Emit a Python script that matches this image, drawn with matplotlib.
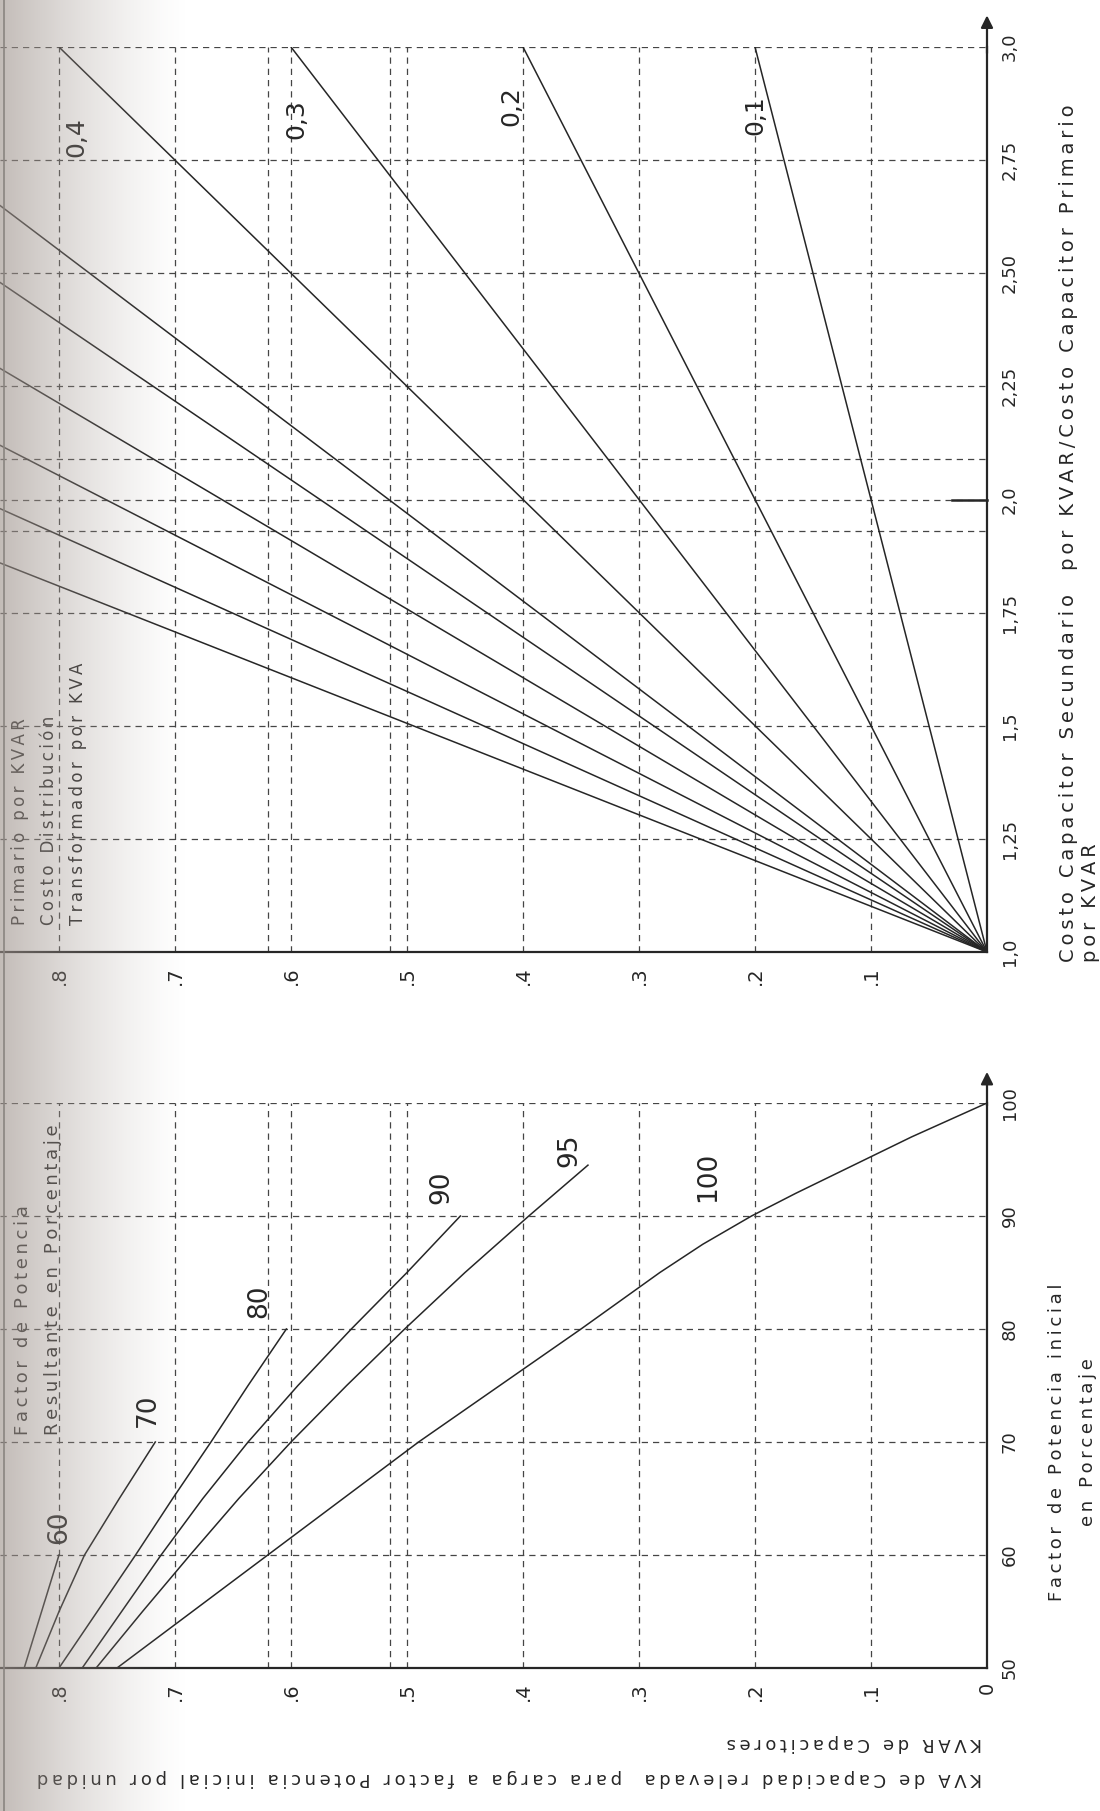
import matplotlib.pyplot as plt
import numpy as np

# ---- data -------------------------------------------------------------
# upper chart: cost ratio (secondary / primary capacitor cost per KVAR)
cost_ticks = [1.0, 1.25, 1.5, 1.75, 2.0, 2.25, 2.5, 2.75, 3.0]
cost_labels = ["1,0", "1,25", "1,5", "1,75", "2,0", "2,25", "2,50", "2,75", "3,0"]
cost_params = ["0,1", "0,2", "0,3", "0,4", "0,5", "0,6", "0,7", "0,8", "0,9", "1,0"]
cost_end_kva = [0.2, 0.4, 0.6, 0.8, 0.851, 0.851, 0.851, 0.851, 0.851, 0.851]
cost_end_ratio = [3.0, 3.0, 3.0, 3.0, 2.65, 2.48, 2.29, 2.12, 1.98, 1.86]
cost_label_pos = {"0,1": (0.20, 2.85), "0,2": (0.41, 2.87),
                  "0,3": (0.595, 2.84), "0,4": (0.785, 2.80)}
cost_extra_grid = [1.93, 2.09]

# shared horizontal scale: KVA / KVAR
kva_ticks = [0.1, 0.2, 0.3, 0.4, 0.5, 0.6, 0.7, 0.8]
kva_labels = [".1", ".2", ".3", ".4", ".5", ".6", ".7", ".8"]
kva_extra_grid = [0.515, 0.62]

# lower chart: initial power factor (%) vs KVA released, per final pf
pf_ticks = [50, 60, 70, 80, 90, 100]
pf_curves = {
    "100": ([100, 97, 94, 92, 90, 87.5, 85, 80, 75, 70, 65, 60, 55, 50],
            [0.0, 0.065, 0.125, 0.165, 0.203, 0.245, 0.282, 0.35, 0.42, 0.49,
             0.555, 0.62, 0.685, 0.75]),
    "95": ([94.5, 90, 85, 80, 75, 70, 65, 60, 55, 50],
           [0.344, 0.395, 0.45, 0.502, 0.552, 0.60, 0.645, 0.687, 0.728, 0.768]),
    "90": ([90, 85, 80, 75, 70, 65, 60, 55, 50],
           [0.454, 0.50, 0.548, 0.594, 0.637, 0.676, 0.712, 0.746, 0.78]),
    "80": ([80, 75, 70, 65, 60, 55, 50],
           [0.604, 0.637, 0.669, 0.702, 0.734, 0.767, 0.80]),
    "70": ([70, 65, 60, 55, 50],
           [0.717, 0.748, 0.778, 0.80, 0.82]),
    "60": ([60, 55, 50],
           [0.80, 0.815, 0.83]),
}
pf_label_pos = {"100": (0.24, 93.5), "95": (0.36, 95.8), "90": (0.47, 92.5),
                "80": (0.627, 82.5), "70": (0.723, 72.8), "60": (0.80, 62.5)}

W, H = 1100, 1811
fig = plt.figure(figsize=(W / 100, H / 100), dpi=100)
fig.patch.set_facecolor("white")

INK = "#262626"
GRID = dict(color="#454545", lw=0.9, ls=(0, (5, 4)))
narrow = ["Liberation Sans Narrow", "DejaVu Sans"]


def spaced(s):
    # wide letter spacing, as in the stencil lettering of the drawing
    return "\u2009".join(s)


def px_rect(x0, y_top, x1, y_bot):
    return [x0 / W, 1 - y_bot / H, (x1 - x0) / W, (y_bot - y_top) / H]


def rot_text(x, y, s, rot, size=13, ha="left"):
    fig.text(x / W, 1 - y / H, spaced(s), rotation=rot, rotation_mode="anchor",
             ha=ha, va="center", fontsize=size, color=INK, family="DejaVu Sans")


AX_X = 987
KVA_MAX = AX_X / 1160.0


def setup(ax, vticks, vlabels, kva_show_zero):
    ax.set_facecolor("none")
    ax.set_xlim(KVA_MAX, 0)
    for s in ("left", "top"):
        ax.spines[s].set_visible(False)
    for s in ("right", "bottom"):
        ax.spines[s].set_color(INK)
        ax.spines[s].set_linewidth(1.6)
    ax.yaxis.tick_right()
    ax.set_yticks(vticks)
    ax.set_yticklabels(vlabels, rotation=90, va="center", ha="left",
                       family=narrow, fontsize=13, color=INK)
    xt = ([0.0] if kva_show_zero else []) + kva_ticks
    xl = (["0"] if kva_show_zero else []) + kva_labels
    ax.set_xticks(xt)
    ax.set_xticklabels(xl, rotation=90, family=narrow, fontsize=14, color=INK)
    ax.tick_params(length=0, pad=10)
    for v in kva_ticks + kva_extra_grid:
        ax.axvline(v, **GRID)


# ---- upper chart ------------------------------------------------------
ax1 = fig.add_axes(px_rect(0, 47, AX_X, 952))
ax1.set_ylim(1.0, 3.0)
setup(ax1, cost_ticks, cost_labels, False)
for c in cost_ticks[1:] + cost_extra_grid:
    ax1.axhline(c, **GRID)
ax1.plot([0.0, 0.03], [2.0, 2.0], color=INK, lw=1.8, clip_on=False)

for name, kv, cr in zip(cost_params, cost_end_kva, cost_end_ratio):
    ax1.plot([0.0, kv], [1.0, cr], color=INK, lw=1.1, solid_capstyle="round")
for name, (kv, cr) in cost_label_pos.items():
    ax1.text(kv, cr, name, rotation=90, ha="center", va="center",
             family=narrow, fontsize=18, color=INK)

ax1.annotate("", xy=(1.0, 1.038), xytext=(1.0, 0.99), xycoords="axes fraction",
             arrowprops=dict(arrowstyle="-|>", color=INK, lw=1.6,
                             mutation_scale=18))

rot_text(1068, 962, "Costo Capacitor Secundario  por KVAR/Costo Capacitor Primario",
         90, size=14)
rot_text(1090, 962, "por KVAR", 90, size=14)

header_top = ["Primario por KVAR", "Costo Distribución", "Transformador por KVA"]
for i, line in enumerate(header_top):
    rot_text(20 + 29 * i, 925, line, 90, size=12)

# ---- lower chart ------------------------------------------------------
ax2 = fig.add_axes(px_rect(0, 1103, AX_X, 1668))
ax2.set_ylim(50, 100)
setup(ax2, pf_ticks, [str(p) for p in pf_ticks], True)
for p in pf_ticks[1:]:
    ax2.axhline(p, **GRID)

for name, (pf, kv) in pf_curves.items():
    ax2.plot(kv, pf, color=INK, lw=1.1)
for name, (kv, pf) in pf_label_pos.items():
    ax2.text(kv, pf, name, rotation=90, ha="center", va="center",
             fontsize=19, color=INK)

ax2.annotate("", xy=(1.0, 1.06), xytext=(1.0, 0.99), xycoords="axes fraction",
             arrowprops=dict(arrowstyle="-|>", color=INK, lw=1.6,
                             mutation_scale=18))

rot_text(1057, 1442, "Factor de Potencia inicial", 90, ha="center")
rot_text(1088, 1442, "en Porcentaje", 90, ha="center")

rot_text(982, 1743, "KVAR de Capacitores", 180)
rot_text(982, 1778,
         "KVA de Capacidad relevada  para carga a factor Potencia inicial por unidad",
         180)

header_bot = ["Factor de Potencia", "Resultante en Porcentaje"]
for i, line in enumerate(header_bot):
    rot_text(23 + 30 * i, 1435, line, 90, size=13)

# ---- gutter shading along the left edge -------------------------------
shade = fig.add_axes([0, 0, 1, 1])
shade.set_zorder(10)
shade.axis("off")
xs = np.arange(W)
alpha = np.clip(1 - xs / 190.0, 0, 1) ** 1.4 * 0.62
rgba = np.zeros((1, W, 4))
rgba[..., 0] = 0.62
rgba[..., 1] = 0.58
rgba[..., 2] = 0.55
rgba[..., 3] = alpha
shade.imshow(rgba, aspect="auto", extent=[0, 1, 0, 1])
shade.axvline(0.004, color="#8a8580", lw=1.2)
shade.set_xlim(0, 1)
shade.set_ylim(0, 1)

fig.savefig("out.png", dpi=100)
